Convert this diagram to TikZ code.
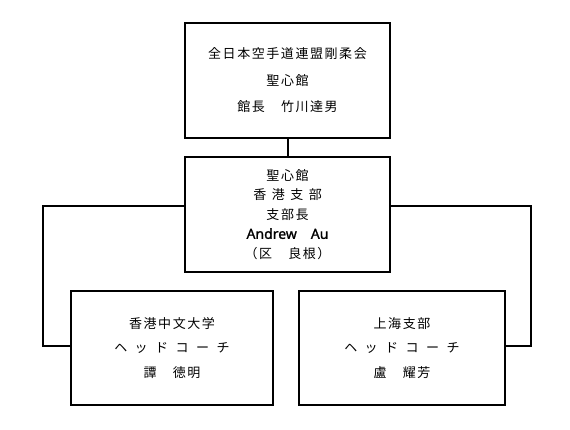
\documentclass[tikz,border=0pt]{standalone}
\usepackage{fontspec}
\newfontfamily\cjk[LetterSpace=12]{Noto Sans CJK JP}
\newfontfamily\latinsans[FakeBold=1.2]{Noto Sans}
\begin{document}
\begin{tikzpicture}[x=1pt,y=-1pt,
  box/.style={draw,line width=2pt,inner sep=0pt,align=center},
  conn/.style={line width=2pt}]
\useasboundingbox[fill=white] (0,0) rectangle (570,430);
\node[box,minimum width=205pt,minimum height=115pt,
  font=\cjk\fontsize{13}{26.5}\selectfont] (top) at (287.5,80.5)
  {全日本空手道連盟剛柔会\\聖心館\\館長　竹川達男};
\node[box,minimum width=205pt,minimum height=115pt,
  font=\cjk\fontsize{13}{19.5}\selectfont] (mid) at (287.5,214.5)
  {聖心館\\香\hspace{5.5pt}港\hspace{5.5pt}支\hspace{5.5pt}部\\支部長\\
   {\latinsans\fontsize{14}{19.5}\selectfont Andrew\hspace{14pt}Au}\\（区　良根）};
\node[box,minimum width=202pt,minimum height=114pt,
  font=\cjk\fontsize{13}{24.5}\selectfont] (ll) at (172,348)
  {香港中文大学\\ヘ\hspace{7.5pt}ッ\hspace{7.5pt}ド\hspace{7.5pt}コ\hspace{7.5pt}ー\hspace{7.5pt}チ\\譚　徳明};
\node[box,minimum width=206pt,minimum height=114pt,
  font=\cjk\fontsize{13}{24.5}\selectfont] (lr) at (402,348)
  {上海支部\\ヘ\hspace{7.5pt}ッ\hspace{7.5pt}ド\hspace{7.5pt}コ\hspace{7.5pt}ー\hspace{7.5pt}チ\\盧　耀芳};
\coordinate (lt) at (43,206);
\coordinate (lb) at (43,346);
\coordinate (rt) at (531,206);
\coordinate (rb) at (531,346);
\draw[conn] (top.south) -- (mid.north);
\draw[conn] (mid.west |- lt) -- (lt) -- (lb) -- (ll.west |- lb);
\draw[conn] (mid.east |- rt) -- (rt) -- (rb) -- (lr.east |- rb);
\end{tikzpicture}
\end{document}
